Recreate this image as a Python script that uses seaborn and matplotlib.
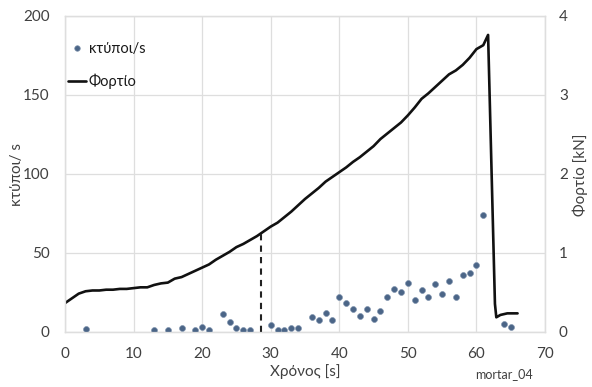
import matplotlib
matplotlib.use("Agg")
import matplotlib.pyplot as plt
from matplotlib.lines import Line2D
import seaborn as sns
import pandas as pd

# Acoustic emission hits per second
hit_time = [3, 13, 15, 17, 19, 20, 21, 23, 24, 25, 26, 27, 30, 31, 32, 33, 34,
            36, 37, 38, 39, 40, 41, 42, 43, 44, 45, 46, 47, 48, 49, 50, 51, 52,
            53, 54, 55, 56, 57, 58, 59, 60, 61, 64, 65]
hit_rate = [1.5, 1, 1, 2, 1, 3, 1, 11, 6, 2, 1, 1, 4, 1, 1, 2, 2,
            9, 7, 12, 7, 22, 18, 14, 10, 14, 8, 13, 22, 27, 25, 31, 20, 26,
            22, 30, 24, 32, 22, 36, 37, 42, 74, 5, 3]

# Applied load
load_time = [0, 1, 2, 3, 4, 5, 6, 7, 8, 9, 10, 11, 12, 13, 14, 15, 16, 17, 18,
             19, 20, 21, 22, 23, 24, 25, 26, 27, 28, 29, 30, 31, 32, 33, 34, 35,
             36, 37, 38, 39, 40, 41, 42, 43, 44, 45, 46, 47, 48, 49, 50, 51, 52,
             53, 54, 55, 56, 57, 58, 59, 60, 61, 61.7, 62.7, 62.9, 63.5, 64.5, 66]
load_kn = [0.36, 0.42, 0.48, 0.51, 0.52, 0.52, 0.53, 0.53, 0.54, 0.54, 0.55,
           0.56, 0.56, 0.59, 0.61, 0.62, 0.67, 0.69, 0.73, 0.77, 0.81, 0.85,
           0.91, 0.96, 1.01, 1.07, 1.11, 1.16, 1.21, 1.27, 1.33, 1.38, 1.45,
           1.52, 1.60, 1.68, 1.75, 1.82, 1.90, 1.96, 2.02, 2.08, 2.15, 2.21,
           2.28, 2.35, 2.44, 2.51, 2.58, 2.65, 2.74, 2.84, 2.95, 3.02, 3.10,
           3.18, 3.26, 3.31, 3.38, 3.47, 3.58, 3.63, 3.76, 0.35, 0.18, 0.21,
           0.23, 0.23]

# Marked instant
marker_time = 28.6
marker_load = 1.25

x_ticks = [0, 10, 20, 30, 40, 50, 60, 70]
left_ticks = [0, 50, 100, 150, 200]
right_ticks = [0, 1, 2, 3, 4]

sns.set_theme(style="white")
plt.rcParams["font.family"] = ["Lato", "Open Sans", "DejaVu Sans"]

hits = pd.DataFrame({"t": hit_time, "rate": hit_rate})
load = pd.DataFrame({"t": load_time, "kn": load_kn})

fig = plt.figure(figsize=(5.92, 3.87), dpi=100)
ax = fig.add_axes([65 / 592, 1 - 331.5 / 387, 480 / 592, 315.5 / 387])
ax2 = ax.twinx()

grid_c = "#dedede"
text_c = "#404040"
dot_c = "#4b6587"

sns.scatterplot(data=hits, x="t", y="rate", ax=ax, color=dot_c, s=18,
                edgecolor="#7f93ad", linewidth=0.5, zorder=3, legend=False)
sns.lineplot(data=load, x="t", y="kn", ax=ax2, color="#111111", linewidth=1.9,
             sort=False, estimator=None, legend=False)
ax2.plot([marker_time, marker_time], [0, marker_load], color="#222222",
         linestyle=(0, (3, 2.5)), linewidth=1.5)

ax.set_xlim(0, 70)
ax.set_ylim(0, 200)
ax2.set_ylim(0, 4)
ax.set_xticks(x_ticks)
ax.set_yticks(left_ticks)
ax2.set_yticks(right_ticks)

ax.grid(True, color=grid_c, linewidth=0.9)
ax.set_axisbelow(True)
for a in (ax, ax2):
    for sp in a.spines.values():
        sp.set_color(grid_c)
        sp.set_linewidth(0.9)
    a.tick_params(length=0, labelsize=11, labelcolor=text_c)
ax.tick_params(axis="x", pad=11)
ax.tick_params(axis="y", pad=11)
ax2.tick_params(axis="y", pad=10)

ax.set_xlabel("")
ax.set_ylabel("")
ax2.set_ylabel("")
fig.text(305 / 592, 1 - 372 / 387, "Χρόνος [s]", ha="center", va="center",
         fontsize=11, color=text_c)
fig.text(17 / 592, 1 - 175 / 387, "κτύποι/ s", ha="center", va="center",
         rotation=90, fontsize=11, color=text_c)
fig.text(580 / 592, 1 - 175 / 387, "Φορτίο [kN]", ha="center", va="center",
         rotation=90, fontsize=11, color=text_c)
fig.text(504 / 592, 1 - 374 / 387, "mortar_04", ha="center", va="center",
         fontsize=9, color=text_c)

handles = [
    Line2D([], [], linestyle="none", marker="o", markersize=4,
           markerfacecolor=dot_c, markeredgecolor="#7f93ad",
           markeredgewidth=0.5, label="κτύποι/s"),
    Line2D([], [], color="#111111", linewidth=1.9, label="Φορτίο"),
]
leg = ax.legend(handles=handles, loc="upper left",
                bbox_to_anchor=(-0.014, 0.95), frameon=False, fontsize=10.5,
                handlelength=1.2, handletextpad=0.2, labelspacing=1.2,
                borderaxespad=0.3)
for t in leg.get_texts():
    t.set_color("#1a1a1a")

fig.savefig("out.png", dpi=100)
